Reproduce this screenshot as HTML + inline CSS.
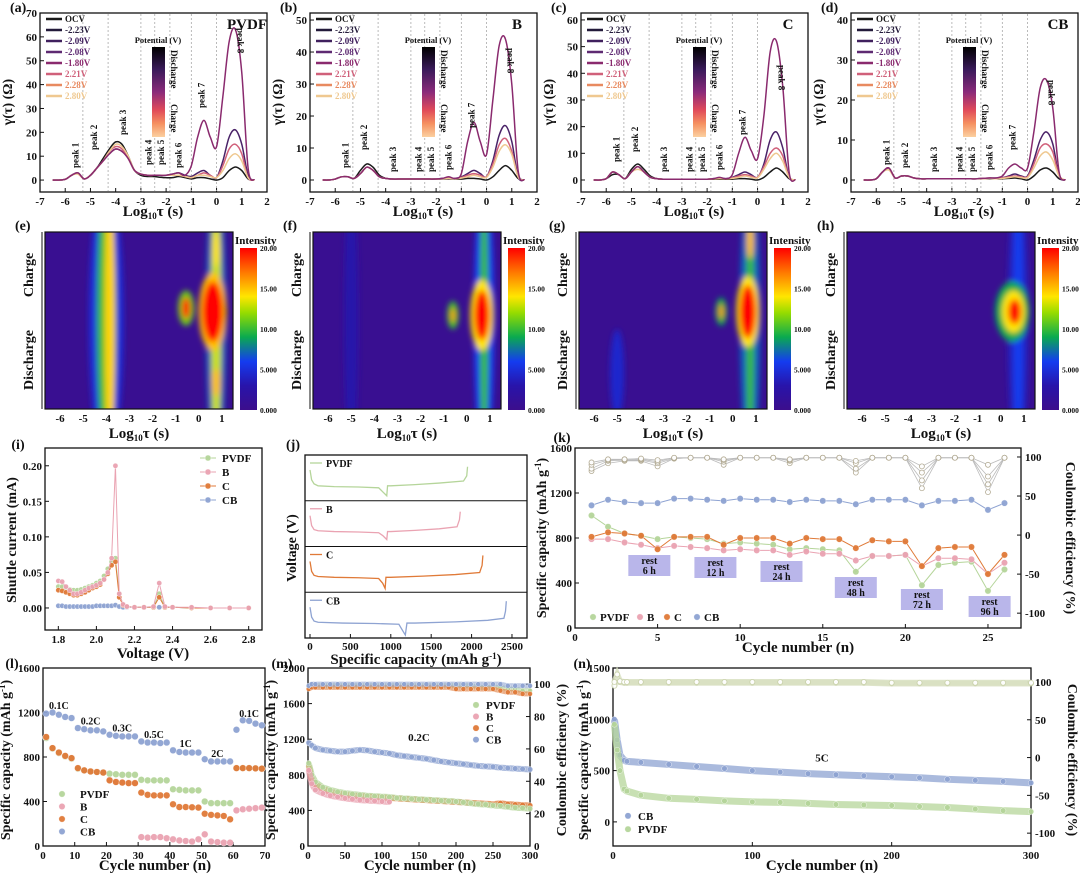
<!DOCTYPE html>
<html><head><meta charset="utf-8"><style>
html,body{margin:0;padding:0;background:#fff;}
svg{display:block;font-family:"Liberation Serif",serif;}
</style></head><body>
<svg id="fig" xmlns="http://www.w3.org/2000/svg" width="1080" height="878" viewBox="0 0 1080 878">
<defs>
<filter id="blur" x="-50%" y="-50%" width="200%" height="200%"><feGaussianBlur stdDeviation="3"/></filter>
<linearGradient id="potgrad" x1="0" y1="0" x2="0" y2="1">
<stop offset="0" stop-color="#000"/><stop offset="0.25" stop-color="#3a1a5a"/><stop offset="0.5" stop-color="#8a2a7a"/><stop offset="0.7" stop-color="#e04a5a"/><stop offset="0.85" stop-color="#f59060"/><stop offset="1" stop-color="#fbd0a0"/></linearGradient>
<linearGradient id="jetgrad" x1="0" y1="1" x2="0" y2="0">
<stop offset="0" stop-color="#3c0e8c"/><stop offset="0.15" stop-color="#2814aa"/><stop offset="0.3" stop-color="#143cf0"/><stop offset="0.45" stop-color="#0aaa50"/><stop offset="0.6" stop-color="#96dc00"/><stop offset="0.7" stop-color="#ffe600"/><stop offset="0.85" stop-color="#ff7800"/><stop offset="1" stop-color="#ff0000"/></linearGradient>
</defs>
</svg>
<script>
// ---------- DATA ----------
const drtX = [-6.5,-6.25,-6,-5.75,-5.5,-5.25,-5,-4.75,-4.5,-4.25,-4,-3.75,-3.5,-3.25,-3,-2.75,-2.5,-2.25,-2,-1.75,-1.5,-1.25,-1,-0.75,-0.5,-0.25,0,0.25,0.5,0.75,1,1.25,1.5];
const drtA_big  = [0,0,0.3,2,3,0.5,2,5,8,11,13,12,9,4,2.5,2,2,2,2,2.5,3,2,6,18,25,18,14,35,58,63,45,5,0];
const drtA_mid  = [0,0,0.3,2,3,0.5,2,5,8,11,13,12,9,4,2.5,2,2,2,2,2.5,3,2,1.5,3,4,2,1,8,18,21,15,2,0];
const drtA_ocv  = [0,0,0.3,2,3,0.5,2,5,9,13,16,15,10,4,2,1.5,1.5,1.2,1,1,1.5,1,0.5,1,1,0.5,0,1,4,5.5,4,0.5,0];
const drtA_pink = [0,0,0.3,2,3,0.5,2,5,8,12,14,13,9,4,2.5,2,2,2,2,2,2,1.5,1,2,3,2,1,6,13,15,11,1,0];
const drtA_beig = [0,0,0.3,2,2.5,0.5,2,5,8,12,15,14,10,4,2.5,2,2,2,2,2,2,1.5,1,2,2,1.5,1,4,9,11,8,1,0];
const drtB_big  = [0,0,0.3,1,1,0.5,2,4,3,1,0.5,0.3,0.3,0.3,0.3,0.3,0.3,0.3,0.3,0.5,1,0.5,2,12,18,12,8,25,42,44,30,3,0];
const drtB_mid  = [0,0,0.3,1,1,0.5,2,4,3,1,0.5,0.3,0.3,0.3,0.3,0.3,0.3,0.3,0.3,0.5,0.5,0.5,1,2,3,2,1,6,14,17,12,1,0];
const drtB_ocv  = [0,0,0.3,1,1,0.5,3,5,4,1.5,0.5,0.3,0.3,0.3,0.3,0.3,0.3,0.3,0.3,0.3,0.3,0.3,0.3,0.5,0.5,0.3,0,1,3,4.5,3,0.5,0];
const drtB_pink = [0,0,0.3,1,1,0.5,2,4,3,1,0.5,0.3,0.3,0.3,0.3,0.3,0.3,0.3,0.3,0.4,0.5,0.4,0.8,1.5,2,1.5,1,5,11,13,9,1,0];
const drtB_beig = [0,0,0.3,1,1,0.5,2,4,3,1,0.5,0.3,0.3,0.3,0.3,0.3,0.3,0.3,0.3,0.4,0.5,0.4,0.6,1,1.5,1,0.8,4,9,11,8,1,0];
const drtC_big  = [0,0,0.5,3,2,0.5,3,5,3,1,0.5,0.3,0.3,0.3,0.3,0.3,0.3,0.3,0.3,0.5,1,0.5,2,10,16,11,8,24,48,52,35,3,0];
const drtC_mid  = [0,0,0.5,3,2,0.5,3,5,3,1,0.5,0.3,0.3,0.3,0.3,0.3,0.3,0.3,0.3,0.5,0.8,0.5,1,2,3,2,1,6,15,18,12,1,0];
const drtC_ocv  = [0,0,0.5,2,2,0.5,4,6,4,1.5,0.5,0.3,0.3,0.3,0.3,0.3,0.3,0.3,0.3,0.3,0.3,0.3,0.3,0.5,0.5,0.3,0,1,3,4.5,3,0.5,0];
const drtC_pink = [0,0,0.5,3,2,0.5,3,5,3,1,0.5,0.3,0.3,0.3,0.3,0.3,0.3,0.3,0.3,0.4,0.6,0.4,0.8,1.5,2,1.5,1,5,10,12,9,1,0];
const drtC_beig = [0,0,0.5,3,2,0.5,3,4,3,1,0.5,0.3,0.3,0.3,0.3,0.3,0.3,0.3,0.3,0.4,0.5,0.4,0.6,1,1.5,1,0.8,4,8,10,7,1,0];
const drtD_big  = [0,0,0.3,2,3,0.5,1,1,0.5,0.3,0.3,0.3,0.3,0.3,0.3,0.3,0.3,0.3,0.3,0.4,0.5,0.5,1,3,4,3,3,12,23,25,18,2,0];
const drtD_mid  = [0,0,0.3,2,3,0.5,1,1,0.5,0.3,0.3,0.3,0.3,0.3,0.3,0.3,0.3,0.3,0.3,0.4,0.5,0.5,0.6,1,1.5,1,1,5,10,12,9,1,0];
const drtD_ocv  = [0,0,0.3,2,3,0.5,1,1,0.5,0.3,0.3,0.3,0.3,0.3,0.3,0.3,0.3,0.3,0.3,0.3,0.3,0.3,0.3,0.4,0.5,0.3,0,1,2.5,3,2,0.3,0];
const drtD_pink = [0,0,0.3,2,3,0.5,1,1,0.5,0.3,0.3,0.3,0.3,0.3,0.3,0.3,0.3,0.3,0.3,0.4,0.5,0.4,0.5,0.8,1,0.8,0.8,4,8,9,7,1,0];
const drtD_beig = [0,0,0.3,2,2.5,0.5,1,1,0.5,0.3,0.3,0.3,0.3,0.3,0.3,0.3,0.3,0.3,0.3,0.3,0.4,0.3,0.4,0.6,0.8,0.6,0.6,3,6,7,5,1,0];
const legendLabels = ['OCV','-2.23V','-2.09V','-2.08V','-1.80V','2.21V','2.28V','2.80V'];
const legendColors = ['#1a1a1a','#231a3a','#40205e','#5e2a72','#8a2a6e','#d0607a','#e88a60','#efc890'];

// heatmap blobs
const hmE_x=[-4,-4,-3.85,0.75,0.75,0.6,0.6,-0.55,-0.55,0.75,0.75];
const hmE_y=[0.5,0.5,0.5,0.5,0.5,0.45,0.45,0.43,0.43,0.85,0.1];
const hmE_rx=[0.75,0.4,0.22,0.45,0.22,0.6,0.45,0.35,0.18,0.18,0.15];
const hmE_ry=[0.8,0.8,0.8,0.8,0.8,0.22,0.17,0.1,0.06,0.08,0.1];
const hmE_c=[5,10,14.5,7,13,15,20,11,19,15,14];
const hmF_x=[-5,0.75,0.75,0.65,0.65,-0.6,-0.6];
const hmF_y=[0.5,0.5,0.5,0.47,0.47,0.47,0.47];
const hmF_rx=[0.3,0.45,0.18,0.5,0.33,0.25,0.1];
const hmF_ry=[0.8,0.8,0.8,0.2,0.14,0.08,0.04];
const hmF_c=[3,6,10,14,20,10,16];
const hmG_x=[-5,0.75,0.75,0.65,0.65,-0.5,-0.5,0.75];
const hmG_y=[0.8,0.5,0.5,0.45,0.45,0.45,0.45,0.05];
const hmG_rx=[0.3,0.45,0.17,0.5,0.35,0.25,0.1,0.15];
const hmG_ry=[0.25,0.8,0.8,0.2,0.15,0.08,0.04,0.1];
const hmG_c=[4.5,7,10,14,20,9,16,15];
const hmH_x=[0.75,0.75,0.5,0.55,0.6];
const hmH_y=[0.5,0.5,0.45,0.45,0.45];
const hmH_rx=[0.45,0.2,0.75,0.5,0.28];
const hmH_ry=[0.8,0.8,0.17,0.12,0.07];
const hmH_c=[4,6,9,14,20];

// (i) shuttle current
const shV=[1.8,1.82,1.84,1.86,1.88,1.9,1.92,1.94,1.96,1.98,2.0,2.02,2.04,2.06,2.08,2.1,2.12,2.14,2.16,2.2,2.25,2.3,2.33,2.36,2.4,2.5,2.6,2.7,2.8];
const shPVDF=[0.03,0.03,0.028,0.026,0.025,0.025,0.026,0.028,0.03,0.032,0.035,0.038,0.045,0.055,0.065,0.07,0.02,0.005,0.002,0.001,0.001,0.001,0.02,0.001,0.001,0,0,0,0];
const shB=[0.038,0.037,0.03,0.025,0.02,0.02,0.022,0.025,0.028,0.03,0.032,0.035,0.04,0.05,0.07,0.2,0.02,0.005,0.002,0.001,0.001,0.002,0.035,0.002,0.001,0.001,0,0,0];
const shC=[0.025,0.024,0.022,0.02,0.018,0.018,0.02,0.022,0.025,0.028,0.03,0.033,0.04,0.048,0.06,0.065,0.015,0.004,0.002,0.001,0.001,0.001,0.015,0.001,0.001,0,0,0,0];
const shCB=[0.003,0.003,0.002,0.002,0.002,0.002,0.002,0.002,0.002,0.002,0.003,0.003,0.003,0.003,0.003,0.004,0.002,0.001,0.001,0.001,0.001,0.001,0.001,0.001,0.001,0,0,0,0];

// (j) GCD
const gcdCapPVDF=[0,20,50,100,300,600,850,900,950,960,1000,1300,1600,1900,1940,1950];
const gcdVPVDF=[0.7,0.45,0.35,0.3,0.28,0.27,0.25,0.15,0.05,0.3,0.3,0.33,0.37,0.42,0.55,0.78];
const gcdCapB=[0,20,50,100,300,600,850,900,950,960,1000,1300,1600,1820,1850,1860];
const gcdVB=[0.7,0.45,0.35,0.32,0.3,0.29,0.27,0.2,0.1,0.3,0.3,0.33,0.37,0.42,0.6,0.8];
const gcdCapC=[0,20,50,100,300,600,850,900,930,940,1000,1400,1800,2100,2130,2140];
const gcdVC=[0.7,0.45,0.35,0.32,0.3,0.29,0.27,0.15,0.02,0.3,0.3,0.33,0.37,0.42,0.6,0.85];
const gcdCapCB=[0,20,50,100,400,800,1100,1150,1180,1200,1300,1800,2200,2400,2420,2430];
const gcdVCB=[0.7,0.45,0.35,0.32,0.3,0.29,0.27,0.1,0.0,0.3,0.3,0.33,0.37,0.42,0.6,0.85];

// (k) rest test
const kCycles=[1,2,3,4,5,6,7,8,9,10,11,12,13,14,15,16,17,18,19,20,21,22,23,24,25,26];
const kPVDF=[1000,900,840,820,790,810,800,790,750,760,750,740,700,710,700,690,500,640,640,650,380,560,580,590,330,520];
const kB=[790,790,760,740,710,730,720,710,690,700,690,690,650,680,660,660,600,640,640,650,550,620,620,610,480,580];
const kC=[810,850,840,820,700,810,810,810,740,800,800,800,750,800,790,790,710,780,770,770,550,710,720,720,480,650];
const kCB=[1090,1140,1120,1110,1110,1150,1150,1140,1130,1150,1140,1140,1120,1140,1130,1130,1100,1140,1140,1140,1090,1130,1130,1140,1050,1110];
const kCE_PVDF=[82,92,95,95,88,98,99,99,90,99,99,99,92,99,99,99,80,99,99,99,60,99,99,99,55,99];
const kCE_B=[85,95,96,96,92,98,99,99,94,99,99,99,95,99,99,99,85,99,99,99,70,99,99,99,65,99];
const kCE_C=[90,96,97,97,94,99,99,99,96,99,99,99,96,99,99,99,92,99,99,99,80,99,99,99,75,99];
const kCE_CB=[93,97,97,98,96,99,99,99,97,99,99,99,97,99,99,99,95,99,99,99,88,99,99,99,90,99];
const restLabels=['6 h','12 h','24 h','48 h','72 h','96 h'];

// (l) rate
const lCycles=[1,3,5,7,9,11,13,15,17,19,21,23,25,27,29,31,33,35,37,39,41,43,45,47,49,51,53,55,57,59,61,63,65,67,69];
const lCB=[1190,1200,1180,1160,1150,1060,1050,1040,1040,1030,1000,990,985,985,985,940,930,930,925,930,860,845,840,840,840,780,760,760,760,760,1045,1130,1125,1100,1085];
const lC=[980,880,840,810,790,700,680,670,665,660,590,575,570,565,565,480,460,455,455,455,375,350,350,348,345,290,280,275,270,240,700,700,700,698,695];
const lPVDF=[970,875,835,805,785,695,680,670,665,660,650,645,640,640,640,595,590,590,590,590,510,505,500,500,500,400,385,385,385,385,700,700,700,698,695];
const lB=[975,878,838,808,788,698,682,672,666,661,595,578,572,567,566,80,75,80,80,70,60,50,45,40,60,105,40,35,30,30,320,330,335,340,345];
const rateLabels=['0.1C','0.2C','0.3C','0.5C','1C','2C','0.1C'];

// (m) 0.2C cycling
const mCycles=[1,5,10,20,30,40,50,60,70,80,90,100,110,120,130,140,150,160,170,180,190,200,210,220,230,240,250,260,270,280,290,300];
const mCB=[1160,1130,1100,1080,1070,1060,1060,1070,1080,1075,1060,1050,1040,1020,1010,1000,990,980,965,950,940,930,920,910,900,895,890,880,875,870,865,860];
const mC=[900,750,690,640,610,590,575,565,560,555,550,545,540,535,530,525,520,515,510,505,500,495,490,485,480,475,470,480,470,465,460,455];
const mPVDF=[930,800,720,660,630,610,595,585,575,565,560,555,550,540,535,530,525,520,515,510,505,500,490,480,470,465,455,450,440,430,425,420];
const mCyclesB=[1,5,10,20,30,40,50,60,70,80,90,100,110];
const mB=[850,700,630,590,565,550,535,525,515,510,505,500,495];
const mCE_CB=[99,100,100,100,100,100,100,100,100,100,100,100,100,100,100,100,100,100,100,100,100,100,100,100,100,100,100,100,99,99,99,99];
const mCE_C=[97,98,98,98,98,98,98,98,98,98,98,98,98,98,98,98,98,98,98,98,98,97,97,97,97,97,97,96,95,95,94,94];
const mCE_PVDF=[98,99,99,99,99,99,99,99,99,99,99,99,99,99,99,99,99,99,99,99,99,99,99,99,98,98,98,98,97,97,96,96];

// (n) 5C cycling
const nCycles=[1,3,5,8,10,20,40,60,80,100,120,140,160,180,200,220,240,260,280,300];
const nCB=[1000,800,650,600,590,580,560,540,520,500,485,470,460,450,440,430,415,405,395,380];
const nPVDF=[950,700,500,320,300,260,230,220,205,195,190,180,170,165,160,150,140,125,110,100];
const nCE_CB=[100,110,101,100,100,100,100,100,100,100,100,100,100,100,99,99,99,99,99,99];
const nCE_PVDF=[95,105,100,99,99,99,99,99,99,99,99,99,99,99,98,98,98,98,98,98];

// ---------- HELPERS ----------
const NS='http://www.w3.org/2000/svg';
const svg=document.getElementById('fig');
const COL={PVDF:'#b5d59a',B:'#eaa3b2',C:'#e07a38',CB:'#8ea3d2'};
function el(tag,attrs,parent){const e=document.createElementNS(NS,tag);for(const k in attrs)e.setAttribute(k,attrs[k]);(parent||svg).appendChild(e);return e;}
function lin(d0,d1,p0,p1){return v=>p0+(v-d0)/(d1-d0)*(p1-p0);}
function T(x,y,s,name,o){o=o||{};
  const t=el('text',{x:x,y:y,'font-size':o.size||11,'font-weight':o.w||'bold','text-anchor':o.anchor||'middle','font-family':'Liberation Serif, serif',fill:o.fill||'#111'},o.parent);
  if(o.rot)t.setAttribute('transform','rotate('+o.rot+' '+x+' '+y+')');
  if(o.html)t.innerHTML=s;else t.textContent=s;
  
  
  return t;}
function smooth(pts){let d='M'+pts[0][0]+','+pts[0][1];
  for(let i=0;i<pts.length-1;i++){const p0=pts[Math.max(0,i-1)],p1=pts[i],p2=pts[i+1],p3=pts[Math.min(pts.length-1,i+2)];
    d+=' C'+(p1[0]+(p2[0]-p0[0])/6)+','+(p1[1]+(p2[1]-p0[1])/6)+' '+(p2[0]-(p3[0]-p1[0])/6)+','+(p2[1]-(p3[1]-p1[1])/6)+' '+p2[0]+','+p2[1];}
  return d;}
function axes(p){
  const sx=lin(p.xd[0],p.xd[1],p.x0,p.x1), sy=lin(p.yd[0],p.yd[1],p.y1,p.y0);
  const g=el('g',{});
  
  
  const fr=el('rect',{x:p.x0,y:p.y0,width:p.x1-p.x0,height:p.y1-p.y0,fill:'none',stroke:'#111','stroke-width':1.3},g);
  
  
  (p.xt||[]).forEach((v,i)=>{const x=sx(v);
    const tk=el('line',{x1:x,x2:x,y1:p.y1,y2:p.y1-4,stroke:'#111','stroke-width':1},g);
    
    
    T(x,p.y1+13,(p.xl?p.xl[i]:v),p.name+'-x-tick-label',{size:p.ts||11,parent:g});});
  (p.yt||[]).forEach((v,i)=>{const y=sy(v);
    const tk=el('line',{x1:p.x0,x2:p.x0+4,y1:y,y2:y,stroke:'#111','stroke-width':1},g);
    
    
    T(p.x0-3,y+4,(p.yl?p.yl[i]:v),p.name+'-y-tick-label',{size:p.ts||11,anchor:'end',parent:g});});
  return {sx,sy,g};}
function curve(sx,sy,xs,ys,color,name,w){
  const pts=xs.map((x,i)=>[sx(x),sy(ys[i])]);
  const pa=el('path',{d:smooth(pts),fill:'none',stroke:color,'stroke-width':w||1.4});
  
  
  return pa;}
function poly(sx,sy,xs,ys,color,name,w,op){
  const pa=el('polyline',{points:xs.map((x,i)=>sx(x)+','+sy(ys[i])).join(' '),fill:'none',stroke:color,'stroke-width':w||1,opacity:op||1});
  
  
  return pa;}
function dots(sx,sy,xs,ys,color,name,r,hollow){
  xs.forEach((x,i)=>{const c=el('circle',{cx:sx(x),cy:sy(ys[i]),r:r||3,fill:hollow?'#fff':color,stroke:hollow?color:'#fff','stroke-width':hollow?0.8:0.4,opacity:0.95});
    
    });}
function jet(v){const stops=[[0,[60,14,140]],[3,[40,20,170]],[6,[20,60,240]],[9,[10,170,80]],[12,[150,220,0]],[14,[255,230,0]],[17,[255,120,0]],[20,[255,0,0]]];
  v=Math.max(0,Math.min(20,v));for(let i=0;i<stops.length-1;i++){const a=stops[i],b=stops[i+1];if(v<=b[0]){const t=(v-a[0])/(b[0]-a[0]);return 'rgb('+a[1].map((c,k)=>Math.round(c+(b[1][k]-c)*t)).join(',')+')';}}return 'rgb(255,0,0)';}
const LOGTAU='Log<tspan font-size="9" dy="3">10</tspan><tspan dy="-3">τ (s)</tspan>';

// ---------- ROW 1: DRT ----------
const drtPanels=[
 {L:'(a)',tag:'PVDF',x0:40,yd:[-5,70],yt:[0,10,20,30,40,50,60,70],s:[drtA_ocv,drtA_mid,drtA_big,drtA_pink,drtA_beig],py:[168,150,135,165,165,168,108,28]},
 {L:'(b)',tag:'B',x0:310,yd:[-3.75,52.2],yt:[0,10,20,30,40,50],s:[drtB_ocv,drtB_mid,drtB_big,drtB_pink,drtB_beig],py:[168,150,172,172,172,170,128,48]},
 {L:'(c)',tag:'C',x0:581,yd:[-4.5,62.6],yt:[0,10,20,30,40,50,60],s:[drtC_ocv,drtC_mid,drtC_big,drtC_pink,drtC_beig],py:[162,152,172,172,172,170,135,65]},
 {L:'(d)',tag:'CB',x0:851,yd:[-3,41.75],yt:[0,10,20,30,40],s:[drtD_ocv,drtD_mid,drtD_big,drtD_pink,drtD_beig],py:[165,168,172,172,172,170,150,80]}];
const curveColors=['#1a1a1a','#4a2268','#8a2a6e','#d0607a','#efc890'];
const peakX=[-5.6,-4.85,-3.7,-2.7,-2.2,-1.5,-0.6,0.95];
const sepX=[-5.3,-4.3,-3,-2.45,-1.85,-1,0];
drtPanels.forEach((P,pi)=>{
  const nm='drt-'+P.tag.toLowerCase();
  const A=axes({name:nm,x0:P.x0,x1:P.x0+227,y0:13,y1:192,xd:[-7,2],yd:P.yd,xt:[-7,-6,-5,-4,-3,-2,-1,0,1,2],yt:P.yt});
  T(P.x0-30,12,P.L,nm+'-panel-letter',{size:14,anchor:'start'});
  T(P.x0-28,102,'γ(τ) (Ω)',nm+'-y-axis-title',{size:14,rot:-90});
  T(P.x0+113,216,LOGTAU,nm+'-x-axis-title',{size:15,html:true});
  sepX.forEach(x=>{const l=el('line',{x1:A.sx(x),x2:A.sx(x),y1:14,y2:191,stroke:'#aaa','stroke-width':0.8,'stroke-dasharray':'2,2'});
    
    });
  [0,1,3,4,2].forEach(k=>curve(A.sx,A.sy,drtX,P.s[k],curveColors[k],nm+'-curve-'+k,1.5));
  legendLabels.forEach((lb,i)=>{const y=22+i*11;
    const l=el('line',{x1:P.x0+6,x2:P.x0+22,y1:y-3,y2:y-3,stroke:legendColors[i],'stroke-width':2.5});
    
    
    T(P.x0+25,y,lb,nm+'-legend-label',{size:9,anchor:'start',fill:legendColors[i]});});
  const cb=el('rect',{x:P.x0+112,y:47,width:13,height:90,fill:'url(#potgrad)'});
  
  
  T(P.x0+118,43,'Potential (V)',nm+'-colorbar-title',{size:8.5});
  T(P.x0+131,50,'Discharge',nm+'-discharge-label',{size:9,anchor:'start',rot:90});
  T(P.x0+131,104,'Charge',nm+'-charge-label',{size:9,anchor:'start',rot:90});
  T(P.x0+207,29,P.tag,nm+'-sample-label',{size:15,anchor:'middle'});
  peakX.forEach((x,i)=>{ if(i<7) T(A.sx(x)+3,P.py[i],'peak '+(i+1),nm+'-peak-label',{size:9,anchor:'start',rot:-90});
    else T(A.sx(x)-3,P.py[i],'peak 8',nm+'-peak-label',{size:9,anchor:'start',rot:90});});
});

// ---------- ROW 2: HEATMAPS ----------
const hmPanels=[{L:'(e)',x0:45,b:[hmE_x,hmE_y,hmE_rx,hmE_ry,hmE_c],bg:0.5},{L:'(f)',x0:313,b:[hmF_x,hmF_y,hmF_rx,hmF_ry,hmF_c],bg:0.5},{L:'(g)',x0:579,b:[hmG_x,hmG_y,hmG_rx,hmG_ry,hmG_c],bg:0.5},{L:'(h)',x0:847,b:[hmH_x,hmH_y,hmH_rx,hmH_ry,hmH_c],bg:0.5}];
hmPanels.forEach((P,pi)=>{
  const nm='heatmap-'+P.L[1];
  const x0=P.x0,x1=P.x0+188,y0=232,y1=409;
  const sx=lin(-6.65,1.48,x0,x1);
  const cp=el('clipPath',{id:'clip'+pi});const cr=el('rect',{x:x0,y:y0,width:x1-x0,height:y1-y0},cp);
  const g=el('g',{'clip-path':'url(#clip'+pi+')'});
  
  
  const bg=el('rect',{x:x0,y:y0,width:x1-x0,height:y1-y0,fill:jet(P.bg)},g);
  
  
  const bg2=el('g',{filter:'url(#blur)'},g);
  P.b[0].forEach((bx,i)=>{const e=el('ellipse',{cx:sx(bx),cy:y0+P.b[1][i]*(y1-y0),rx:P.b[2][i]*(x1-x0)/8.13,ry:P.b[3][i]*(y1-y0),fill:jet(P.b[4][i])},bg2);
    
    });
  const fr=el('rect',{x:x0,y:y0,width:x1-x0,height:y1-y0,fill:'none',stroke:'#111','stroke-width':1.2});
  
  
  [-6,-5,-4,-3,-2,-1,0,1].forEach(v=>T(sx(v),422,v,nm+'-x-tick-label',{size:11}));
  T((x0+x1)/2,438,LOGTAU,nm+'-x-axis-title',{size:15,html:true});
  T(x0-30,230,P.L,nm+'-panel-letter',{size:14,anchor:'start'});
  const ax=el('line',{x1:x0-3,x2:x0-3,y1:y0,y2:y1,stroke:'#111','stroke-width':1});
  
  
  T(x0-12,275,'Charge',nm+'-charge-label',{size:14,rot:-90});
  T(x0-12,360,'Discharge',nm+'-discharge-label',{size:14,rot:-90});
  const cb=el('rect',{x:x1+7,y:248,width:17,height:162,fill:'url(#jetgrad)'});
  
  
  T(x1+2,244,'Intensity',nm+'-colorbar-title',{size:11,anchor:'start'});
  ['20.00','15.00','10.00','5.000','0.000'].forEach((s,i)=>T(x1+27,251+i*40.5,s,nm+'-colorbar-tick',{size:7.5,anchor:'start'}));
});

// ---------- (i) ----------
(function(){
  const A=axes({name:'shuttle',x0:45,x1:262,y0:448,y1:630,xd:[1.73,2.87],yd:[-0.031,0.225],xt:[1.8,2.0,2.2,2.4,2.6,2.8],xl:['1.8','2.0','2.2','2.4','2.6','2.8'],yt:[0,0.05,0.1,0.15,0.2],yl:['0.00','0.05','0.10','0.15','0.20']});
  T(18,449,'(i)',"shuttle-panel-letter",{size:14});
  T(16,540,'Shuttle current (mA)','shuttle-y-axis-title',{size:14,rot:-90});
  T(153,658,'Voltage (V)','shuttle-x-axis-title',{size:15});
  [[shCB,COL.CB,'cb'],[shPVDF,COL.PVDF,'pvdf'],[shC,COL.C,'c'],[shB,COL.B,'b']].forEach(s=>{poly(A.sx,A.sy,shV,s[0],s[1],'shuttle-line-'+s[2],1);dots(A.sx,A.sy,shV,s[0],s[1],'shuttle-point-'+s[2],2.6);});
  ['PVDF','B','C','CB'].forEach((n,i)=>{const y=462+i*14;
    poly(x=>x,y=>y,[200,216],[y-4,y-4],COL[n],'shuttle-legend-line',1);
    dots(x=>x,y=>y,[208],[y-4],COL[n],'shuttle-legend-marker',3);
    T(222,y,n,'shuttle-legend-label',{size:11,anchor:'start'});});
})();

// ---------- (j) ----------
(function(){
  const x0=305,x1=527,y0=455,y1=638;
  const sx=lin(-62,2686,x0,x1);
  const fr=el('rect',{x:x0,y:y0,width:x1-x0,height:y1-y0,fill:'none',stroke:'#111','stroke-width':1.3});
  
  
  [0,500,1000,1500,2000,2500].forEach(v=>{T(sx(v),650,v,'gcd-x-tick-label',{size:11});
    const tk=el('line',{x1:sx(v),x2:sx(v),y1:y1,y2:y1-4,stroke:'#111'});
    
    });
  T(293,449,'(j)','gcd-panel-letter',{size:14});
  T(296,548,'Voltage (V)','gcd-y-axis-title',{size:14,rot:-90});
  T(416,664,'Specific capacity (mAh g<tspan font-size="9" dy="-5">-1</tspan><tspan dy="5">)</tspan>','gcd-x-axis-title',{size:15,html:true});
  const series=[['PVDF',gcdCapPVDF,gcdVPVDF],['B',gcdCapB,gcdVB],['C',gcdCapC,gcdVC],['CB',gcdCapCB,gcdVCB]];
  const h=(y1-y0)/4;
  series.forEach((s,i)=>{const top=y0+i*h;
    if(i>0){const l=el('line',{x1:x0,x2:x1,y1:top,y2:top,stroke:'#111','stroke-width':1});
      
      }
    const sy=lin(0,1,top+h-3,top+3);
    poly(sx,sy,s[1],s[2],COL[s[0]],'gcd-curve-'+s[0].toLowerCase(),1.3);
    poly(x=>x,y=>y,[310,322],[top+8,top+8],COL[s[0]],'gcd-legend-line',1.3);
    T(326,top+12,s[0],'gcd-legend-label',{size:10,anchor:'start'});});
})();

// ---------- (k) ----------
(function(){
  const A=axes({name:'rest',x0:575,x1:1021,y0:448,y1:628,xd:[0,27],yd:[0,1600],xt:[0,5,10,15,20,25],yt:[0,400,800,1200,1600]});
  const syR=lin(-119,111.5,628,448);
  [-100,-50,0,50,100].forEach(v=>{const tk=el('line',{x1:1021,x2:1017,y1:syR(v),y2:syR(v),stroke:'#111'});
    
    
    T(1025,syR(v)+4,v,'rest-right-tick-label',{size:11,anchor:'start'});});
  T(562,442,'(k)','rest-panel-letter',{size:14});
  T(546,538,'Specific capacity (mAh g<tspan font-size="9" dy="-5">-1</tspan><tspan dy="5">)</tspan>','rest-y-axis-title',{size:14,rot:-90,html:true});
  T(1066,538,'Coulombic efficiency (%)','rest-right-axis-title',{size:14,rot:90});
  T(798,652,'Cycle number (n)','rest-x-axis-title',{size:15});
  [[kCE_PVDF,'PVDF'],[kCE_B,'B'],[kCE_C,'C'],[kCE_CB,'CB']].forEach(s=>{poly(A.sx,syR,kCycles,s[0],'#bbb','rest-ce-line-'+s[1].toLowerCase(),0.8);dots(A.sx,syR,kCycles,s[0],'#b0a890','rest-ce-point-'+s[1].toLowerCase(),2.5,true);});
  [[kCB,'CB'],[kPVDF,'PVDF'],[kB,'B'],[kC,'C']].forEach(s=>{poly(A.sx,A.sy,kCycles,s[0],COL[s[1]],'rest-line-'+s[1].toLowerCase(),1);dots(A.sx,A.sy,kCycles,s[0],COL[s[1]],'rest-point-'+s[1].toLowerCase(),3.2);});
  const restCyc=[4.5,8.5,12.5,17,21,25.1], restTop=[555,557,561,577,589,596];
  restLabels.forEach((r,i)=>{const cx=A.sx(restCyc[i]);
    const b=el('rect',{x:cx-21,y:restTop[i],width:42,height:21,fill:'#b9b6ea'});
    
    
    T(cx,restTop[i]+9,'rest','rest-box-label',{size:10});
    T(cx,restTop[i]+19,r,'rest-box-duration',{size:10});});
  ['PVDF','B','C','CB'].forEach((n,i)=>{const x=[593,640,667,697][i];
    dots(x=>x,y=>y,[x],[617],COL[n],'rest-legend-marker',3.2);
    T(x+7,621,n,'rest-legend-label',{size:11,anchor:'start'});});
})();

// ---------- (l) ----------
(function(){
  const A=axes({name:'rate',x0:43,x1:265,y0:668,y1:846,xd:[0,70],yd:[0,1600],xt:[0,10,20,30,40,50,60,70],yt:[0,400,800,1200,1600]});
  T(12,668,'(l)','rate-panel-letter',{size:14});
  T(10,760,'Specific capacity (mAh g<tspan font-size="9" dy="-5">-1</tspan><tspan dy="5">)</tspan>','rate-y-axis-title',{size:14,rot:-90,html:true});
  T(155,870,'Cycle number (n)','rate-x-axis-title',{size:15});
  [[lCB,'CB'],[lB,'B'],[lPVDF,'PVDF'],[lC,'C']].forEach(s=>dots(A.sx,A.sy,lCycles,s[0],COL[s[1]],'rate-point-'+s[1].toLowerCase(),3.4));
  const rx=[5,15,25,35,45,55,65], ry=[1230,1090,1030,970,890,800,1160];
  rateLabels.forEach((r,i)=>T(A.sx(rx[i]),A.sy(ry[i]),r,'rate-c-label',{size:10}));
  ['PVDF','B','C','CB'].forEach((n,i)=>{const y=798+i*12.5;
    dots(x=>x,y=>y,[62],[y-4],COL[n],'rate-legend-marker',3.2);
    T(80,y,n,'rate-legend-label',{size:11,anchor:'start'});});
})();

// ---------- (m) ----------
(function(){
  const A=axes({name:'cycle02c',x0:308,x1:530,y0:668,y1:846,xd:[0,300],yd:[0,2000],xt:[0,50,100,150,200,250,300],yt:[0,400,800,1200,1600,2000]});
  const syR=lin(0,110,846,668);
  [0,20,40,60,80,100].forEach(v=>{const tk=el('line',{x1:530,x2:526,y1:syR(v),y2:syR(v),stroke:'#111'});
    
    
    T(534,syR(v)+4,v,'cycle02c-right-tick-label',{size:11,anchor:'start'});});
  T(282,668,'(m)','cycle02c-panel-letter',{size:14});
  T(275,760,'Specific capacity (mAh g<tspan font-size="9" dy="-5">-1</tspan><tspan dy="5">)</tspan>','cycle02c-y-axis-title',{size:14,rot:-90,html:true});
  T(566,760,'Coulombic efficiency (%)','cycle02c-right-axis-title',{size:14,rot:-90});
  T(420,870,'Cycle number (n)','cycle02c-x-axis-title',{size:15});
  [[mCE_PVDF,'PVDF'],[mCE_C,'C'],[mCE_CB,'CB']].forEach(s=>{poly(A.sx,syR,mCycles,s[0],COL[s[1]],'cycle02c-ce-band-'+s[1].toLowerCase(),5,0.6);dots(A.sx,syR,mCycles,s[0],COL[s[1]],'cycle02c-ce-point-'+s[1].toLowerCase(),2.5);});
  [[mCB,'CB',mCycles],[mC,'C',mCycles],[mPVDF,'PVDF',mCycles],[mB,'B',mCyclesB]].forEach(s=>{poly(A.sx,A.sy,s[2],s[0],COL[s[1]],'cycle02c-band-'+s[1].toLowerCase(),6,0.75);dots(A.sx,A.sy,s[2],s[0],COL[s[1]],'cycle02c-point-'+s[1].toLowerCase(),2.8);});
  T(A.sx(150),A.sy(1180),'0.2C','cycle02c-rate-label',{size:11});
  ['PVDF','B','C','CB'].forEach((n,i)=>{const y=A.sy(1540-i*130);
    dots(x=>x,y=>y,[476],[y-4],COL[n],'cycle02c-legend-marker',3.2);
    T(486,y,n,'cycle02c-legend-label',{size:11,anchor:'start'});});
})();

// ---------- (n) ----------
(function(){
  const A=axes({name:'cycle5c',x0:613,x1:1031,y0:668,y1:846,xd:[0,300],yd:[-235,1500],xt:[0,100,200,300],yt:[0,500,1000,1500]});
  const syR=lin(-117,118.5,846,668);
  [-100,-50,0,50,100].forEach(v=>{const tk=el('line',{x1:1031,x2:1027,y1:syR(v),y2:syR(v),stroke:'#111'});
    
    
    T(1035,syR(v)+4,v,'cycle5c-right-tick-label',{size:11,anchor:'start'});});
  T(582,668,'(n)','cycle5c-panel-letter',{size:14});
  T(588,760,'Specific capacity (mAh g<tspan font-size="9" dy="-5">-1</tspan><tspan dy="5">)</tspan>','cycle5c-y-axis-title',{size:14,rot:-90,html:true});
  T(1068,760,'Coulombic efficiency (%)','cycle5c-right-axis-title',{size:14,rot:90});
  T(822,870,'Cycle number (n)','cycle5c-x-axis-title',{size:15});
  [[nCE_PVDF,'PVDF'],[nCE_CB,'CB']].forEach(s=>{poly(A.sx,syR,nCycles,s[0],'#d8e0c0','cycle5c-ce-band-'+s[1].toLowerCase(),6,0.8);dots(A.sx,syR,nCycles,s[0],'#c8d0a8','cycle5c-ce-point-'+s[1].toLowerCase(),2.5,true);});
  [[nCB,'CB'],[nPVDF,'PVDF']].forEach(s=>{poly(A.sx,A.sy,nCycles,s[0],COL[s[1]],'cycle5c-band-'+s[1].toLowerCase(),7,0.75);dots(A.sx,A.sy,nCycles,s[0],COL[s[1]],'cycle5c-point-'+s[1].toLowerCase(),2.8);});
  T(A.sx(150),A.sy(590),'5C','cycle5c-rate-label',{size:11});
  ['CB','PVDF'].forEach((n,i)=>{const y=A.sy(20-i*130);
    dots(x=>x,y=>y,[628],[y-4],COL[n],'cycle5c-legend-marker',3.2);
    T(638,y,n,'cycle5c-legend-label',{size:11,anchor:'start'});});
})();
</script>
</body></html>
